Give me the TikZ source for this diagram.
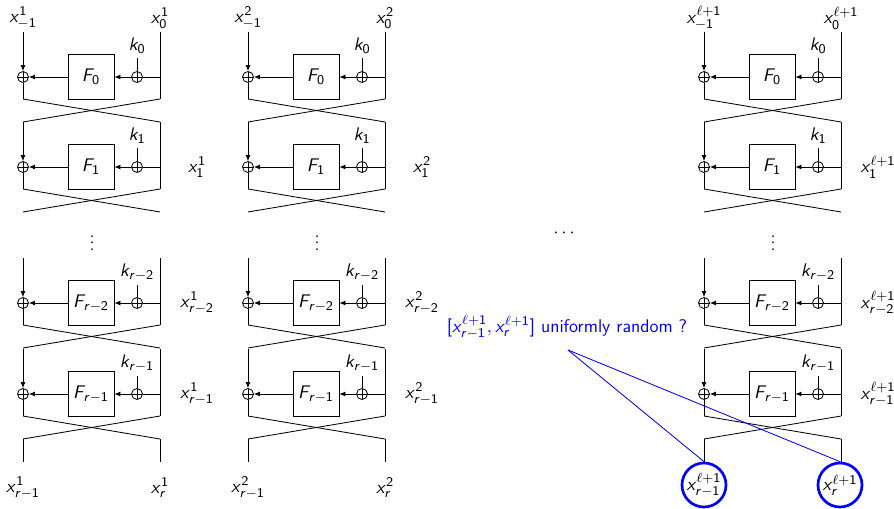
\documentclass[tikz,border=0pt]{standalone}
\usetikzlibrary{arrows.meta}
% sans serif math letters, as on slides
\DeclareSymbolFont{sfitletters}{OT1}{cmss}{m}{sl}
\SetSymbolFont{operators}{normal}{OT1}{cmss}{m}{n}
\newcount\lettercode
\lettercode=`a
\loop
  \mathcode\lettercode=\numexpr "7000+\symsfitletters*"100+\lettercode\relax
  \advance\lettercode by 1
\ifnum\lettercode<123 \repeat
\lettercode=`A
\loop
  \mathcode\lettercode=\numexpr "7000+\symsfitletters*"100+\lettercode\relax
  \advance\lettercode by 1
\ifnum\lettercode<91 \repeat
\definecolor{qblue}{RGB}{0,0,255}
\tikzset{
  wire/.style={draw=black, line width=0.5pt},
  arrow/.style={wire, -{Latex[length=3.6pt,width=3pt]}},
  xorop/.style={circle, draw, line width=0.5pt, inner sep=0pt, minimum size=6.6pt,
    path picture={\draw[line width=0.5pt]
      (path picture bounding box.north) -- (path picture bounding box.south)
      (path picture bounding box.west) -- (path picture bounding box.east);}},
  fbox/.style={draw, line width=0.5pt, minimum width=27.6pt, minimum height=27pt, inner sep=0pt},
  keylabel/.style={inner sep=2.5pt},
  outcircle/.style={circle, draw=qblue, line width=1.6pt, minimum size=26.4pt, inner sep=0pt},
  question/.style={text=qblue},
  qline/.style={draw=qblue, line width=0.5pt}
}
% one round: #1 prefix, #2 left wire x, #3 centre y, #4 key index
\newcommand{\feistelround}[4]{%
  \node[xorop] (#1xl) at (#2,#3) {};
  \node[fbox] (#1f) at (#2+68,#3) {$F_{#4}$};
  \node[xorop] (#1xk) at (#2+114,#3) {};
  \node[keylabel] (#1k) at (#2+114,#3-31) {$k_{#4}$};
  \coordinate (#1tl) at (#2,#3-45);
  \coordinate (#1tr) at (#2+137,#3-45);
  \coordinate (#1r) at (#2+137,#3);
  \coordinate (#1bl) at (#2,#3+22);
  \coordinate (#1br) at (#2+137,#3+22);
  \coordinate (#1cl) at (#2,#3+45);
  \coordinate (#1cr) at (#2+137,#3+45);
  \draw[arrow] (#1tl) -- (#1xl);
  \draw[wire] (#1xl) -- (#1bl);
  \draw[wire] (#1tr) -- (#1br);
  \draw[wire] (#1r) -- (#1xk);
  \draw[arrow] (#1xk) -- (#1f);
  \draw[arrow] (#1f) -- (#1xl);
  \draw[wire] (#1k) -- (#1xk);
  \draw[wire] (#1bl) -- (#1cr);
  \draw[wire] (#1br) -- (#1cl);
}
% one column: #1 prefix, #2 left wire x, #3 superscript
\newcommand{\feistelcol}[3]{%
  \feistelround{#1a}{#2}{77}{0}
  \feistelround{#1b}{#2}{167}{1}
  \feistelround{#1c}{#2}{303}{r-2}
  \feistelround{#1d}{#2}{394}{r-1}
  \node (#1inl) at (#2,18) {$x_{-1}^{#3}$};
  \node (#1inr) at (#2+137,18) {$x_{0}^{#3}$};
  \node (#1outb) at (#2+174,167) {$x_{1}^{#3}$};
  \node (#1outc) at (#2+174,303) {$x_{r-2}^{#3}$};
  \node (#1outd) at (#2+174,394) {$x_{r-1}^{#3}$};
  \node (#1dots) at (#2+69,238) {$\vdots$};
  \coordinate (#1endl) at (#2,462);
  \coordinate (#1endr) at (#2+137,462);
  \draw[wire] (#1dcl) -- (#1endl);
  \draw[wire] (#1dcr) -- (#1endr);
}

\begin{document}
\begin{tikzpicture}[x=0.6pt,y=-0.6pt,font=\sffamily\fontsize{11}{13}\selectfont]
  \useasboundingbox (0,0) rectangle (894,509);

  % Feistel columns
  \feistelcol{ca}{23}{1}
  \feistelcol{cb}{248}{2}
  \feistelcol{cc}{704}{\ell+1}

  \node (midots) at (564,233) {$\cdots$};

  % outputs
  \node (caoutl) at (23,488) {$x_{r-1}^{1}$};
  \node (caoutr) at (160,488) {$x_{r}^{1}$};
  \node (cboutl) at (248,488) {$x_{r-1}^{2}$};
  \node (cboutr) at (385,488) {$x_{r}^{2}$};
  \node[outcircle] (ccoutl) at (704,485) {$x_{r-1}^{\ell+1}$};
  \node[outcircle] (ccoutr) at (840,485) {$x_{r}^{\ell+1}$};

  % question
  \node[question] (quest) at (567,327) {$[x_{r-1}^{\ell+1}, x_{r}^{\ell+1}]$ uniformly random ?};
  \coordinate (qtip) at (568,350);
  \draw[qline] (qtip) -- (ccoutl.north);
  \draw[qline] (qtip) -- (ccoutr.north);
\end{tikzpicture}
\end{document}
